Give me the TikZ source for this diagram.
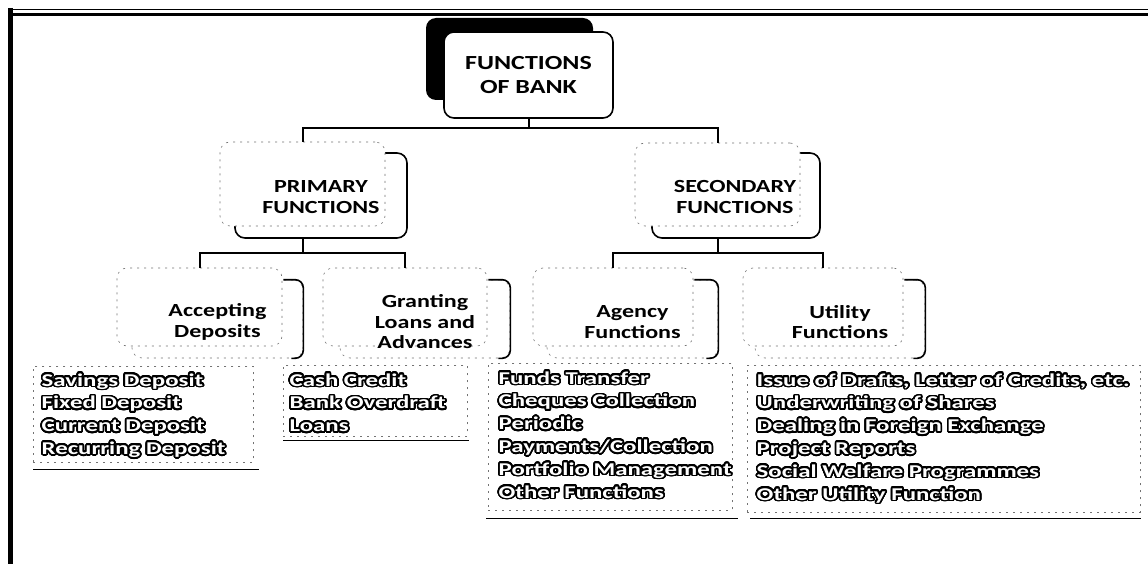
\documentclass[tikz,border=0pt]{standalone}
\usepackage{fontspec}
\usepackage{contour}
\usetikzlibrary{calc}
\setmainfont{Carlito}
\newfontfamily\cf[FakeStretch=1.3]{Carlito}
\newfontfamily\cfw[FakeStretch=1.38]{Carlito}
\contourlength{1.7pt}
\contournumber{32}
\newcommand{\olt}[1]{{\color{white}\contour{black}{#1}}}
\begin{document}
\begin{tikzpicture}[x=1pt,y=-1pt,
  faint/.style={draw=black!55, line width=0.6pt, dash pattern=on 2pt off 5pt},
  link/.style={draw=black, line width=2pt},
  frontbox/.style={rounded corners=10pt, fill=white, draw=black, line width=1.6pt, inner sep=0pt},
  backbox/.style={rounded corners=10pt, fill=white, faint, inner sep=0pt},
  lowbox/.style={rounded corners=10pt, fill=white, faint, inner sep=0pt},
  bracket/.style={draw=black, line width=1.6pt, rounded corners=8pt},
  listbox/.style={faint, inner sep=0pt, anchor=north west},
  basebar/.style={draw=black, line width=1.4pt},
  headtext/.style={font=\cf\bfseries\fontsize{18.5}{20.5}\selectfont, align=center, inner sep=0pt},
  items/.style={font=\cfw\bfseries\fontsize{18}{22.8}\selectfont, align=left, anchor=base west, inner sep=0pt}
]
\useasboundingbox (0,0) rectangle (1148,564);
\fill[white] (0,0) rectangle (1148,564);
% frame
\draw[line width=1pt] (8,10) -- (1148,10);
\draw[line width=2.5pt] (8,14.5) -- (1148,14.5);
\draw[line width=5pt] (10,8) -- (10,564);

% root
\node[fill=black, rounded corners=10pt, minimum width=167pt, minimum height=82pt, inner sep=0pt] (rootsh) at (509.5,59) {};
\node[frontbox, minimum width=169pt, minimum height=86pt, font=\cf\bfseries\fontsize{20}{24}\selectfont, align=center] (root) at (528.5,75) {FUNCTIONS\\OF BANK};

% level 2
\node[frontbox, minimum width=172pt, minimum height=85pt] (pf) at (321,195.5) {};
\node[backbox, minimum width=165pt, minimum height=84pt] (pb) at (302.5,184) {};
\node[headtext] (pt) at (321,197) {PRIMARY\\FUNCTIONS};

\node[frontbox, minimum width=168pt, minimum height=85pt] (sf) at (736,195.5) {};
\node[backbox, minimum width=165pt, minimum height=83pt] (sb) at (717.5,184.5) {};
\node[headtext] (st) at (735,197) {SECONDARY\\FUNCTIONS};

% level 3
\node[lowbox, minimum width=171pt, minimum height=78pt] (af) at (217.5,319) {};
\node[backbox, minimum width=165pt, minimum height=78pt] (ab) at (199.5,307) {};
\node[headtext] (at) at (217.5,322) {Accepting\\Deposits};

\node[lowbox, minimum width=170pt, minimum height=78pt] (gf) at (425,319) {};
\node[backbox, minimum width=164pt, minimum height=78pt] (gb) at (405,307) {};
\node[headtext] (gt) at (425,322) {Granting\\Loans and\\Advances};

\node[lowbox, minimum width=171pt, minimum height=78pt] (yf) at (632.5,319) {};
\node[backbox, minimum width=160pt, minimum height=78pt] (yb) at (613,307) {};
\node[headtext] (yt) at (632.5,322) {Agency\\Functions};

\node[lowbox, minimum width=170pt, minimum height=78pt] (uf) at (840,319) {};
\node[backbox, minimum width=160pt, minimum height=78pt] (ub) at (823,307) {};
\node[headtext] (ut) at (840,322) {Utility\\Functions};

% brackets on level 3
\foreach \f/\b in {af/ab, gf/gb, yf/yb, uf/ub}{
  \draw[bracket] ($(\b.north east |- \f.north)+(1,0)$) -| (\f.east) |- ($(\f.south east)+(-12,0)$);
}

% connectors
\coordinate (j0) at (528.5,128);
\draw[link] (root.south) -- (j0);
\draw[link] (j0) -| (pb.north);
\draw[link] (j0) -| (sb.north);
\coordinate (j1) at (302.5,253);
\draw[link] (pb.center |- pf.south) -- (j1);
\draw[link] (j1) -| (ab.north);
\draw[link] (j1) -| (gb.north);
\coordinate (j2) at (717.5,253);
\draw[link] (sb.center |- sf.south) -- (j2);
\draw[link] (j2) -| (yb.north);
\draw[link] (j2) -| (ub.north);

% lists (base anchor = baseline of the last line)
\node[listbox, minimum width=220pt, minimum height=96pt] (dl) at (33,366) {};
\draw[basebar] ($(dl.south west)+(0,7)$) -- ($(dl.south east)+(5,7)$);
\node[items] (dtx) at (41.5,454.4) {\olt{Savings Deposit}\\\olt{Fixed Deposit}\\\olt{Current Deposit}\\\olt{Recurring Deposit}};

\node[listbox, minimum width=184pt, minimum height=71pt] (ll) at (283,365) {};
\draw[basebar] ($(ll.south west)+(0,4)$) -- ($(ll.south east)+(1,4)$);
\node[items] (ltx) at (289.5,431.6) {\olt{Cash Credit}\\\olt{Bank Overdraft}\\\olt{Loans}};

\node[listbox, minimum width=244pt, minimum height=147pt] (yl) at (488,363) {};
\draw[basebar] ($(yl.south west)+(-2,8)$) -- ($(yl.south east)+(5,8)$);
\node[items] (ytx) at (498.5,498) {\olt{Funds Transfer}\\\olt{Cheques Collection}\\\olt{Periodic}\\\olt{Payments/Collection}\\\olt{Portfolio Management}\\\olt{Other Functions}};

\node[listbox, minimum width=393pt, minimum height=147pt] (ul) at (747,365) {};
\draw[basebar] ($(ul.south west)+(3,6)$) -- ($(ul.south east)+(0,6)$);
\node[items] (utx) at (756.5,500) {\olt{Issue of Drafts, Letter of Credits, etc.}\\\olt{Underwriting of Shares}\\\olt{Dealing in Foreign Exchange}\\\olt{Project Reports}\\\olt{Social Welfare Programmes}\\\olt{Other Utility Function}};
\end{tikzpicture}
\end{document}
